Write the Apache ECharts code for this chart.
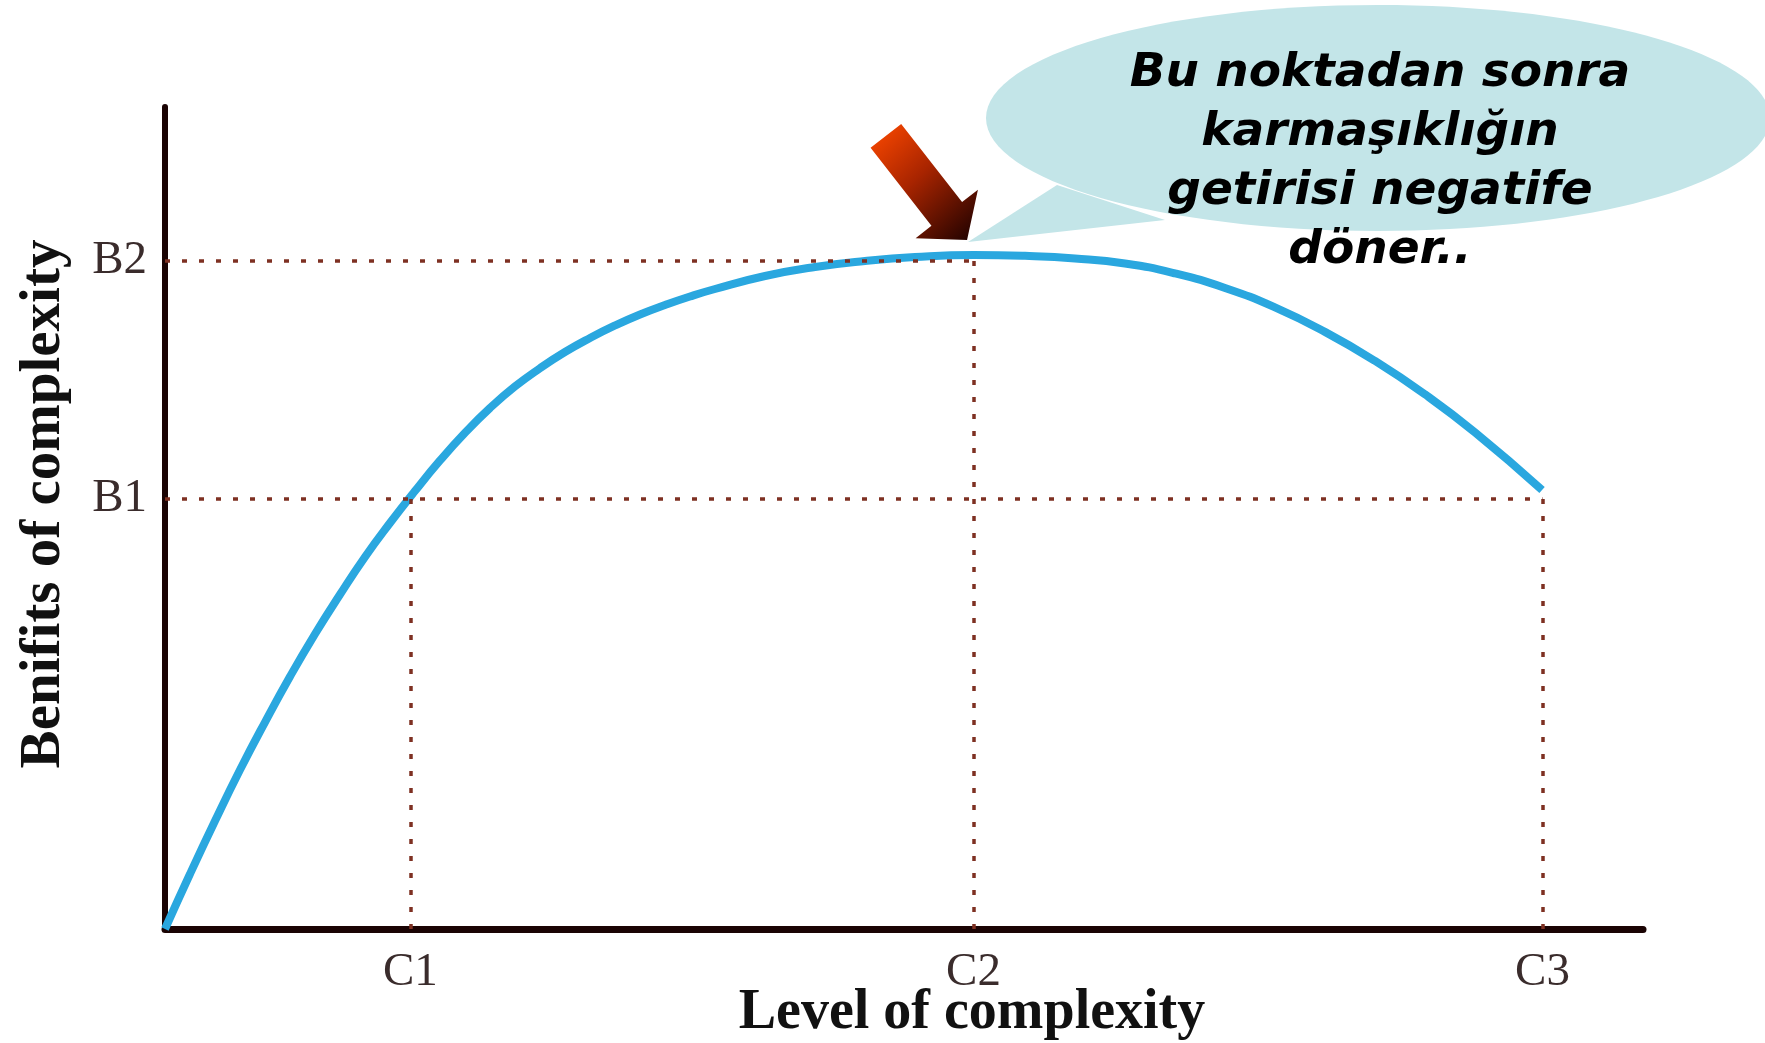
<!DOCTYPE html>
<html>
<head>
<meta charset="utf-8">
<script src="https://cdn.jsdelivr.net/npm/echarts@6/dist/echarts.min.js"></script>
<style>
  html, body { margin: 0; padding: 0; background: #ffffff; }
  #chart { width: 1765px; height: 1043px; }
</style>
</head>
<body>
<div id="chart"></div>
<script>
// ---- data (axes run 0..100 in both directions) ----
const cLabels = ['C1', 'C2', 'C3'];
const cValues = [16.6, 54.7, 93.2];
const bLabels = ['B1', 'B2'];
const bValues = [52.3, 81.3];

const curveX = [0, 1.69, 3.38, 5.07, 6.77, 8.46, 10.15, 11.84, 13.53, 15.22, 16.91, 18.61, 20.3, 21.99, 23.68, 25.37, 27.06, 28.76, 30.45, 32.14, 33.83, 35.52, 37.21, 40.6, 43.98, 47.36, 50.74, 54.74, 58.19, 61.57, 64.95, 68.34, 71.72, 75.1, 78.48, 81.87, 85.25, 88.63, 93.17];
const curveY = [0, 6.69, 13.14, 19.34, 25.18, 30.72, 35.89, 40.69, 45.26, 49.39, 53.28, 57.0, 60.37, 63.38, 66.0, 68.22, 70.19, 71.9, 73.42, 74.76, 75.91, 76.95, 77.86, 79.44, 80.54, 81.27, 81.75, 82.0, 81.89, 81.58, 80.97, 79.76, 77.99, 75.62, 72.64, 69.11, 65.04, 60.41, 53.41];

const peakIndex = 27;
const xAxisName = 'Level of complexity';
const yAxisName = 'Benifits of complexity';
const bubbleLines = ['Bu noktadan sonra', 'karmaşıklığın', 'getirisi negatife', 'döner..'];

// ---- chart ----
const chart = echarts.init(document.getElementById('chart'), null, { renderer: 'canvas' });

const curveData = curveX.map((x, i) => [x, curveY[i]]);
const [c1, c2, c3] = cValues;
const [b1, b2] = bValues;

const guideLines = [
  [{ coord: [0, b1] }, { coord: [c3, b1] }],
  [{ coord: [0, b2] }, { coord: [c2, b2] }],
  [{ coord: [c1, 0] }, { coord: [c1, b1] }],
  [{ coord: [c2, 0] }, { coord: [c2, b2] }],
  [{ coord: [c3, 0] }, { coord: [c3, b1] }]
];

const axisColor = '#1a0303';
const labelStyle = {
  fontFamily: '"Liberation Serif", "Times New Roman", serif',
  fontSize: 47,
  color: '#3a2c2c'
};
const nameStyle = {
  fontFamily: '"Liberation Serif", "Times New Roman", serif',
  fontWeight: 'bold',
  color: '#111111'
};

chart.setOption({
  backgroundColor: '#ffffff',
  animation: false,
  grid: { left: 165, right: 122, top: 107, bottom: 114, containLabel: false, outerBoundsMode: 'none' },
  xAxis: {
    type: 'value', min: 0, max: 100,
    splitLine: { show: false },
    axisTick: { show: false },
    axisLine: { show: true, onZero: false, lineStyle: { color: axisColor, width: 7 } },
    axisLabel: {
      customValues: cValues,
      formatter: v => cLabels[cValues.indexOf(v)],
      margin: 20,
      ...labelStyle
    },
    name: xAxisName,
    nameLocation: 'middle',
    nameGap: 57,
    nameMoveOverlap: false,
    nameTextStyle: { ...nameStyle, fontSize: 56, padding: [0, 0, 0, 136] }
  },
  yAxis: {
    type: 'value', min: 0, max: 100,
    splitLine: { show: false },
    axisTick: { show: false },
    axisLine: { show: true, onZero: false, lineStyle: { color: axisColor, width: 6 } },
    axisLabel: {
      customValues: bValues,
      formatter: v => bLabels[bValues.indexOf(v)],
      margin: 18,
      ...labelStyle
    },
    name: yAxisName,
    nameLocation: 'middle',
    nameGap: 92,
    nameMoveOverlap: false,
    nameTextStyle: { ...nameStyle, fontSize: 57, padding: [0, 0, 0, 28] }
  },
  series: [
    {
      type: 'line',
      data: [],
      z: 1,
      silent: true,
      markLine: {
        silent: true,
        symbol: ['none', 'none'],
        label: { show: false },
        lineStyle: { color: '#7e3022', width: 3.5, type: [5, 12] },
        data: guideLines
      }
    },
    {
      type: 'line',
      data: curveData,
      z: 3,
      smooth: 0.5,
      showSymbol: false,
      lineStyle: { color: '#2aa7df', width: 8 },
      silent: true
    }
  ]
});

// ---- annotation: arrow pointing at the peak, and speech bubble ----
const tip0 = chart.convertToPixel({ gridIndex: 0 }, [curveX[peakIndex], curveY[peakIndex]]);
const T = [tip0[0] - 7, tip0[1] - 15];
const u = [0.615, 0.789];
const v = [-0.789, 0.615];
const P = (a, b) => [T[0] - a * u[0] + b * v[0], T[1] - a * u[1] + b * v[1]];
const arrowPts = [T, P(33, 39.5), P(33, 19.4), P(132, 19.4), P(132, -19.4), P(33, -19.4), P(33, -39.5)];

chart.setOption({
  graphic: [
    {
      type: 'polygon', z: 1,
      shape: { points: [[968, 242], [1057, 185], [1165, 220]] },
      style: { fill: '#c3e5e8' }
    },
    {
      type: 'ellipse', z: 1,
      shape: { cx: 1378, cy: 118, rx: 392, ry: 113 },
      style: { fill: '#c3e5e8' }
    },
    {
      type: 'polygon', z: 10,
      shape: { points: arrowPts },
      style: {
        fill: {
          type: 'linear', x: 0, y: 0, x2: 1, y2: 1,
          colorStops: [
            { offset: 0, color: '#ff4a00' },
            { offset: 0.45, color: '#a82400' },
            { offset: 1, color: '#1a0000' }
          ]
        }
      }
    },
    {
      type: 'text', z: 20,
      x: 1380, y: 162,
      style: {
        text: bubbleLines.join('\n'),
        fill: '#000000',
        font: 'italic bold 47px "DejaVu Sans", Verdana, sans-serif',
        align: 'center', verticalAlign: 'middle',
        textAlign: 'center', textVerticalAlign: 'middle',
        lineHeight: 59
      }
    }
  ]
});
</script>
</body>
</html>
